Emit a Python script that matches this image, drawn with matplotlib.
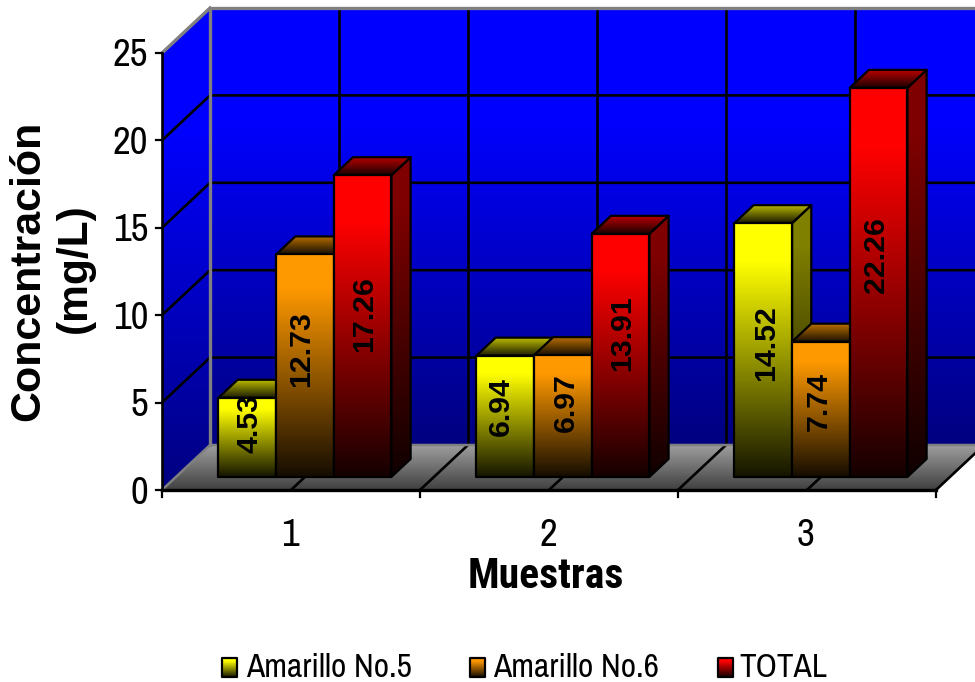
import matplotlib

matplotlib.use("Agg")
import matplotlib.pyplot as plt
import numpy as np
from matplotlib.patches import Polygon

CATEGORIES = ["1", "2", "3"]
SERIES = ["Amarillo No.5", "Amarillo No.6", "TOTAL"]
AMARILLO_5 = [4.53, 6.94, 14.52]
AMARILLO_6 = [12.73, 6.97, 7.74]
TOTAL = [17.26, 13.91, 22.26]
Y_TICKS = [0, 5, 10, 15, 20, 25]
COLORS = [(1.0, 1.0, 0.0), (1.0, 0.6, 0.0), (1.0, 0.0, 0.0)]

# where the rotated value labels sit, on the value scale, and their sideways nudge in pixels
LABEL_HEIGHTS = [[3.83, 4.75, 8.4], [8.07, 4.98, 5.09], [10.07, 8.98, 13.44]]
LABEL_NUDGE = [[2, -4, 3], [-4, 3, -2], [2, 2, -3]]

# pixel layout of the projected box
WIDTH, HEIGHT = 975, 682
X0_PX, Y0_PX = 162, 490
CAT_PX = 258
UNIT_PX = 17.48
DEPTH_X_PX, DEPTH_Y_PX = 48, 45
BAR_WIDTH = 0.2235
BAR_FRONT, BAR_BACK = 0.29, 0.69
NARROW = ["Archivo Narrow", "Liberation Sans Narrow", "Liberation Sans"]
NARROW_BOLD = ["Roboto Condensed", "PT Sans Narrow", "Liberation Sans"]
WIDE = "Liberation Sans"


def project(x, y, depth=0.0):
    return x + depth * DEPTH_X_PX / CAT_PX, y + depth * DEPTH_Y_PX / UNIT_PX


def fig_xy(px, py):
    return px / WIDTH, 1 - py / HEIGHT


def ramp(color, stops, n=256):
    t = np.linspace(0, 1, n)
    pos, factor = zip(*stops)
    shade = np.interp(t, pos, factor)
    return np.array(color)[None, None, :] * shade[:, None, None]


def gradient_face(ax, points, color, stops, zorder, edge="black", lw=1.6):
    points = np.array(points)
    extent = (points[:, 0].min(), points[:, 0].max(), points[:, 1].min(), points[:, 1].max())
    image = ax.imshow(ramp(color, stops), extent=extent, origin="upper", aspect="auto", zorder=zorder, interpolation="bilinear")
    patch = Polygon(points, closed=True, transform=ax.transData, facecolor="none", edgecolor="none")
    ax.add_patch(patch)
    image.set_clip_path(patch)
    if edge is not None:
        ax.add_patch(Polygon(points, closed=True, facecolor="none", edgecolor=edge, linewidth=lw, joinstyle="round", zorder=zorder + 0.1))


FRONT_STOPS = [(0, 1.0), (0.15, 1.0), (1, 0.08)]
SIDE_STOPS = [(0, 0.5), (0.15, 0.5), (1, 0.06)]
TOP_STOPS = [(0, 0.72), (1, 0.1)]
WALL_STOPS = [(0, 1.0), (0.25, 1.0), (1, 0.5)]
FLOOR_STOPS = [(0, 0.62), (1, 0.25)]

figure = plt.figure(figsize=(WIDTH / 100, HEIGHT / 100), dpi=100)
ax = figure.add_axes([0, 0, 1, 1])
ax.axis("off")

x_min = 0.5 - X0_PX / CAT_PX
x_max = x_min + WIDTH / CAT_PX
y_min = -(HEIGHT - Y0_PX) / UNIT_PX
y_max = y_min + HEIGHT / UNIT_PX

x_left = 0.5
x_right = x_left + len(CATEGORIES)
y_top = max(Y_TICKS)
BLUE = (0.0, 0.0, 1.0)
GRAY = (1.0, 1.0, 1.0)
wall_gray = "#808080"

# walls and floor
gradient_face(ax, [project(x_left, 0, 1), project(x_right + 0.2, 0, 1), project(x_right + 0.2, y_top, 1), project(x_left, y_top, 1)], BLUE, WALL_STOPS, 1, edge=None)
gradient_face(ax, [project(x_left, 0, 0), project(x_left, 0, 1), project(x_left, y_top, 1), project(x_left, y_top, 0)], BLUE, WALL_STOPS, 1, edge=None)
gradient_face(ax, [project(x_left, 0, 0), project(x_right, 0, 0), project(x_right, 0, 1), project(x_left, 0, 1)], GRAY, FLOOR_STOPS, 1.2, edge=None)

# gridlines on the side and back walls
for tick in Y_TICKS[1:-1]:
    ax.plot(*zip(project(x_left, tick, 0), project(x_left, tick, 1), project(x_right + 0.2, tick, 1)), color="black", lw=1.9, zorder=1.5)
for half in np.arange(x_left + 0.5, x_right + 0.01, 0.5):
    ax.plot(*zip(project(half, 0, 1), project(half, y_top, 1)), color="black", lw=1.9, zorder=1.1)
    ax.plot(*zip(project(half, 0, 0), project(half, 0, 1)), color="black", lw=1.9, zorder=1.5)

# wall edges
ax.plot(*zip(project(x_left, 0, 0), project(x_left, 0, 1), project(x_right + 0.2, 0, 1)), color=wall_gray, lw=1.8, zorder=1.6)
ax.plot(*zip(project(x_left, 0, 1), project(x_left, y_top, 1), project(x_right + 0.2, y_top, 1)), color=wall_gray, lw=2.4, zorder=1.6)
ax.plot(*zip(project(x_left, y_top, 0), project(x_left, y_top, 1)), color=wall_gray, lw=2.4, zorder=1.6)

# front axes
ax.plot([x_left, x_left], [0, y_top], color="black", lw=1.9, zorder=2)
ax.plot([x_left, x_right], [0, 0], color="black", lw=2.4, zorder=2)
for tick in Y_TICKS:
    ax.plot([x_left - 6 / CAT_PX, x_left], [tick, tick], color="black", lw=1.6, zorder=2)
for edge_x in np.arange(x_left, x_right + 0.01):
    ax.plot([edge_x, edge_x], [0, -7 / UNIT_PX], color="black", lw=1.6, zorder=2)

# bars, left to right so each one covers the side of the previous one
series_values = [AMARILLO_5, AMARILLO_6, TOTAL]
z = 3.0
for cat_index in range(len(CATEGORIES)):
    center = cat_index + 1
    for series_index, values in enumerate(series_values):
        value = values[cat_index]
        left = center + (series_index - 1.5) * BAR_WIDTH
        right = left + BAR_WIDTH
        color = COLORS[series_index]
        side = [project(right, 0, BAR_FRONT), project(right, 0, BAR_BACK), project(right, value, BAR_BACK), project(right, value, BAR_FRONT)]
        top = [project(left, value, BAR_FRONT), project(right, value, BAR_FRONT), project(right, value, BAR_BACK), project(left, value, BAR_BACK)]
        front = [project(left, 0, BAR_FRONT), project(right, 0, BAR_FRONT), project(right, value, BAR_FRONT), project(left, value, BAR_FRONT)]
        gradient_face(ax, side, color, SIDE_STOPS, z)
        gradient_face(ax, top, color, TOP_STOPS, z + 0.2)
        gradient_face(ax, front, color, FRONT_STOPS, z + 0.4)
        label_x, _ = project(left + BAR_WIDTH / 2, 0, BAR_FRONT)
        label_x += LABEL_NUDGE[series_index][cat_index] / CAT_PX
        ax.text(label_x, LABEL_HEIGHTS[series_index][cat_index], f"{value:.2f}", rotation=90, ha="center", va="center", family=WIDE, fontweight="bold", fontsize=21.8, color="black", zorder=20)
        z += 1

# tick labels
for tick in Y_TICKS:
    ax.text(x_left - 14 / CAT_PX, tick - 3 / UNIT_PX, str(tick), ha="right", va="center", family=NARROW, fontsize=28, zorder=20)
for cat_index, name in enumerate(CATEGORIES):
    ax.text(cat_index + 1 - 1 / CAT_PX, -45 / UNIT_PX, name, ha="center", va="center", family=NARROW, fontsize=28, zorder=20)

# axis titles
figure.text(*fig_xy(546, 576), "Muestras", ha="center", va="center", family=NARROW_BOLD, fontweight="bold", fontsize=30)
figure.text(*fig_xy(28, 271), "Concentración", rotation=90, ha="center", va="center", family=WIDE, fontweight="bold", fontsize=31)
figure.text(*fig_xy(75, 268), "(mg/L)", rotation=90, ha="center", va="center", family=WIDE, fontweight="bold", fontsize=30.6)

# legend
swatch_lefts = [222, 470, 718]
text_lefts = [246, 493, 739]
for name, color, swatch_px, text_px in zip(SERIES, COLORS, swatch_lefts, text_lefts):
    x0 = x_min + swatch_px / CAT_PX
    x1 = x_min + (swatch_px + 15) / CAT_PX
    y0 = y_min + (HEIGHT - 677) / UNIT_PX
    y1 = y_min + (HEIGHT - 658) / UNIT_PX
    gradient_face(ax, [(x0, y0), (x1, y0), (x1, y1), (x0, y1)], color, FRONT_STOPS, 30)
    figure.text(*fig_xy(text_px, 668), name, ha="left", va="center", family=NARROW, fontsize=24)

ax.set_xlim(x_min, x_max)
ax.set_ylim(y_min, y_max)
figure.savefig("out.png", dpi=100)
plt.close(figure)
